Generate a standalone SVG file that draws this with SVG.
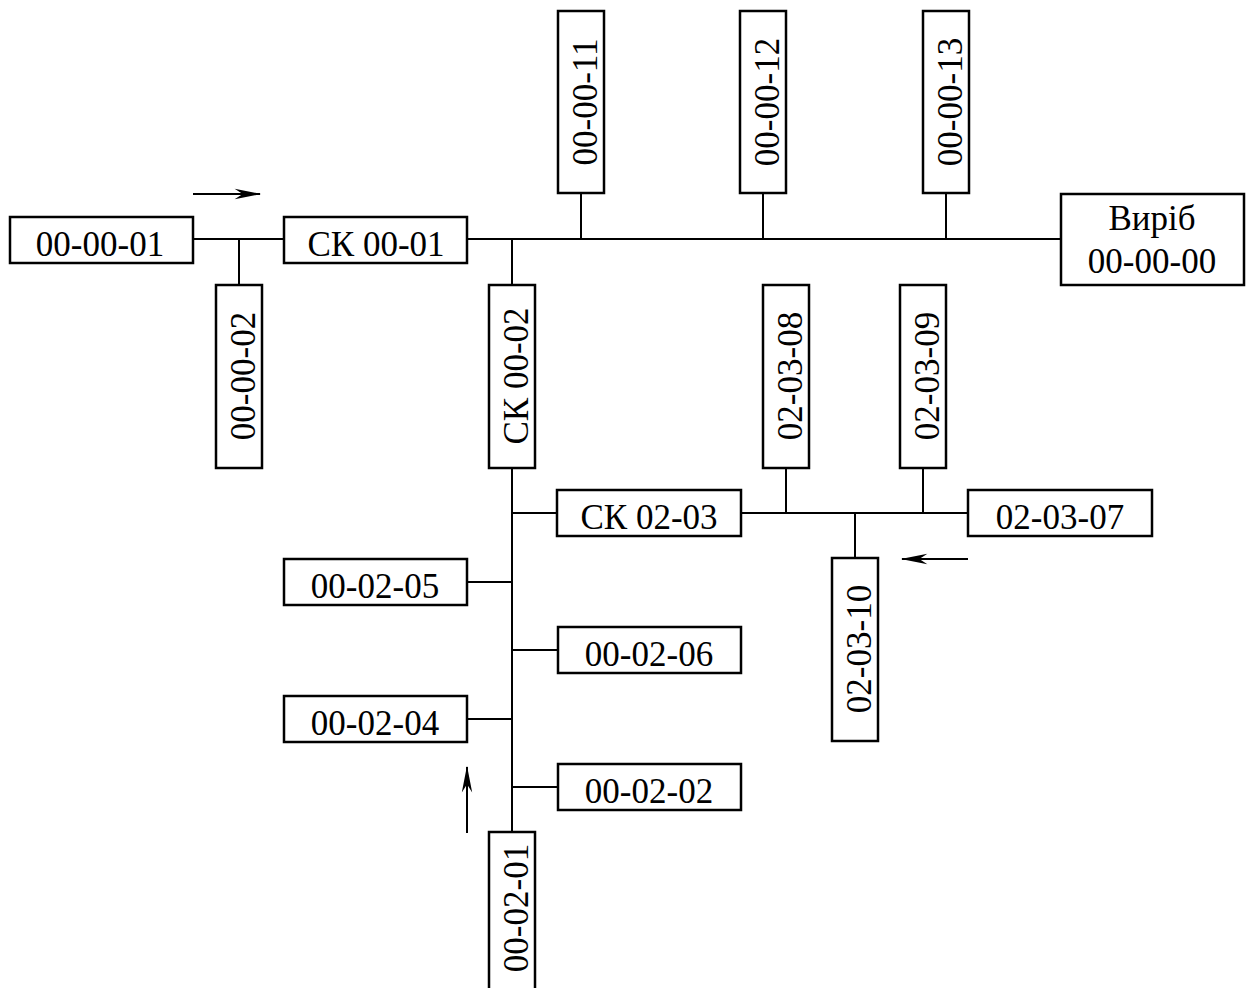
<svg xmlns="http://www.w3.org/2000/svg" width="1250" height="988" viewBox="0 0 1250 988">
<style>
.b{fill:#fff;stroke:#000;stroke-width:2.5}
.t{font-family:"Liberation Serif","Times New Roman",serif;font-size:35px;text-anchor:middle;fill:#000}
.c{stroke:#000;stroke-width:2;fill:none}
.a{stroke:#000;stroke-width:2;fill:none;marker-end:url(#ah)}
</style>
<defs>
<marker id="ah" markerUnits="userSpaceOnUse" markerWidth="30" markerHeight="14" viewBox="-24 -6 26 12" refX="0" refY="0" orient="auto">
<path d="M1,0 L-22,-4.5 L-15,0 L-22,4.5 Z" fill="#000"/>
</marker>
</defs>
<rect width="1250" height="988" fill="#fff"/>
<g id="connectors">
<line class="c" x1="193" y1="239" x2="284" y2="239"/>
<line class="c" x1="239" y1="239" x2="239" y2="285"/>
<line class="c" x1="467" y1="239" x2="1061" y2="239"/>
<line class="c" x1="581" y1="193" x2="581" y2="239"/>
<line class="c" x1="763" y1="193" x2="763" y2="239"/>
<line class="c" x1="946" y1="193" x2="946" y2="239"/>
<line class="c" x1="512" y1="239" x2="512" y2="285"/>
<line class="c" x1="512" y1="468" x2="512" y2="832"/>
<line class="c" x1="512" y1="513" x2="557" y2="513"/>
<line class="c" x1="741" y1="513" x2="968" y2="513"/>
<line class="c" x1="786" y1="468" x2="786" y2="513"/>
<line class="c" x1="923" y1="468" x2="923" y2="513"/>
<line class="c" x1="855" y1="513" x2="855" y2="558"/>
<line class="c" x1="467" y1="582" x2="512" y2="582"/>
<line class="c" x1="512" y1="650" x2="558" y2="650"/>
<line class="c" x1="467" y1="719" x2="512" y2="719"/>
<line class="c" x1="512" y1="787" x2="558" y2="787"/>
<line class="a" x1="193" y1="194" x2="260" y2="194"/>
<line class="a" x1="968" y1="559" x2="902" y2="559"/>
<line class="a" x1="467" y1="833" x2="467" y2="767"/>
</g>
<g id="n-00-00-01"><rect class="b" x="10" y="217" width="183" height="46"/><text class="t" x="100" y="256">00-00-01</text></g>
<g id="n-ck-00-01"><rect class="b" x="284" y="217" width="183" height="46"/><text class="t" x="376" y="256">СК 00-01</text></g>
<g id="n-00-00-02"><rect class="b" x="216" y="285" width="46" height="183"/><text class="t" x="239" y="392" transform="rotate(-90 239 376)">00-00-02</text></g>
<g id="n-00-00-11"><rect class="b" x="558" y="11" width="46" height="182"/><text class="t" x="581" y="118" transform="rotate(-90 581 102)">00-00-11</text></g>
<g id="n-00-00-12"><rect class="b" x="740" y="11" width="46" height="182"/><text class="t" x="763" y="118" transform="rotate(-90 763 102)">00-00-12</text></g>
<g id="n-00-00-13"><rect class="b" x="923" y="11" width="46" height="182"/><text class="t" x="946" y="118" transform="rotate(-90 946 102)">00-00-13</text></g>
<g id="n-00-00-00"><rect class="b" x="1061" y="194" width="183" height="91"/><text class="t" x="1152" y="230">Виріб</text><text class="t" x="1152" y="273">00-00-00</text></g>
<g id="n-ck-00-02"><rect class="b" x="489" y="285" width="46" height="183"/><text class="t" x="512" y="392" transform="rotate(-90 512 376)">СК 00-02</text></g>
<g id="n-02-03-08"><rect class="b" x="763" y="285" width="46" height="183"/><text class="t" x="786" y="392" transform="rotate(-90 786 376)">02-03-08</text></g>
<g id="n-02-03-09"><rect class="b" x="900" y="285" width="46" height="183"/><text class="t" x="923" y="392" transform="rotate(-90 923 376)">02-03-09</text></g>
<g id="n-ck-02-03"><rect class="b" x="557" y="490" width="184" height="46"/><text class="t" x="649" y="529">СК 02-03</text></g>
<g id="n-02-03-07"><rect class="b" x="968" y="490" width="184" height="46"/><text class="t" x="1060" y="529">02-03-07</text></g>
<g id="n-02-03-10"><rect class="b" x="832" y="558" width="46" height="183"/><text class="t" x="855" y="665" transform="rotate(-90 855 649)">02-03-10</text></g>
<g id="n-00-02-05"><rect class="b" x="284" y="559" width="183" height="46"/><text class="t" x="375" y="598">00-02-05</text></g>
<g id="n-00-02-06"><rect class="b" x="558" y="627" width="183" height="46"/><text class="t" x="649" y="666">00-02-06</text></g>
<g id="n-00-02-04"><rect class="b" x="284" y="696" width="183" height="46"/><text class="t" x="375" y="735">00-02-04</text></g>
<g id="n-00-02-02"><rect class="b" x="558" y="764" width="183" height="46"/><text class="t" x="649" y="803">00-02-02</text></g>
<g id="n-00-02-01"><rect class="b" x="489" y="832" width="46" height="183"/><text class="t" x="512" y="924" transform="rotate(-90 512 908)">00-02-01</text></g>
</svg>
